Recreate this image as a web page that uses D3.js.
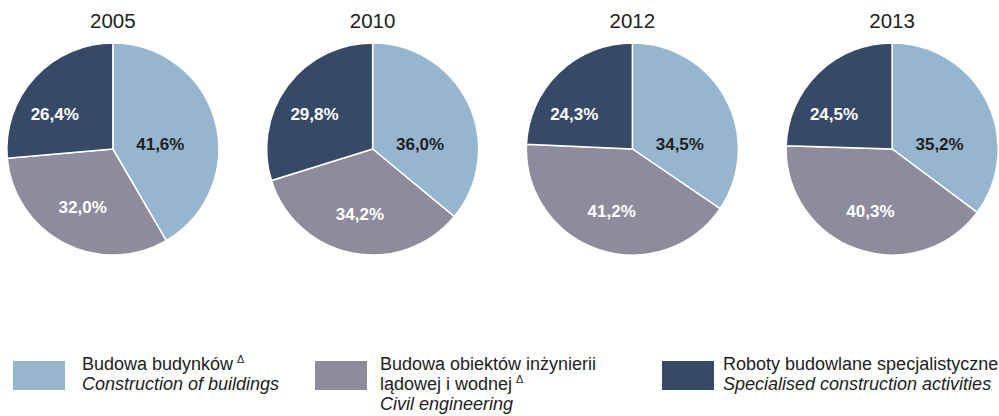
<!DOCTYPE html>
<html>
<head>
<meta charset="utf-8">
<script src="https://cdn.jsdelivr.net/npm/d3@7"></script>
<style>
  html, body { margin: 0; padding: 0; background: #fff; }
  svg { display: block; font-family: "Liberation Sans", Arial, sans-serif; }
</style>
</head>
<body>
<svg id="chart" width="999" height="416"></svg>
<script>
  // data
  const years = ['2005', '2010', '2012', '2013'];
  const categories = ['buildings', 'civil', 'specialised'];
  const shares2005 = [41.6, 32.0, 26.4];
  const shares2010 = [36.0, 34.2, 29.8];
  const shares2012 = [34.5, 41.2, 24.3];
  const shares2013 = [35.2, 40.3, 24.5];
  const legendPl = ['Budowa budynków', 'Budowa obiektów inżynierii|lądowej i wodnej', 'Roboty budowlane specjalistyczne'];
  const legendEn = ['Construction of buildings', 'Civil engineering', 'Specialised construction activities'];
  const legendDelta = [true, true, false];

  const colors = ['#96b6d0', '#8e8b9d', '#364a68'];
  const labelColors = ['#1f1f1f', '#ffffff', '#ffffff'];
  // label placement (best-fit style): fixed angle (deg) or slice middle when null
  const labelAngle = [84, null, 301];
  const labelFrac = [0.45, 0.62, 0.64];

  const allShares = [shares2005, shares2010, shares2012, shares2013];
  const W = 999, R = 106, cy = 149;

  const svg = d3.select('#chart');
  const x = d3.scaleBand().domain(years).range([-17, W + 23]);

  const pie = d3.pie().sort(null).value(d => d);
  const arc = d3.arc().innerRadius(0).outerRadius(R);
  const fmt = v => v.toFixed(1).replace('.', ',') + '%';

  function labelPos(d, j) {
    const a = labelAngle[j] != null ? labelAngle[j] * Math.PI / 180 : (d.startAngle + d.endAngle) / 2;
    const r = R * labelFrac[j];
    return [Math.sin(a) * r, -Math.cos(a) * r];
  }

  years.forEach((yr, i) => {
    const cx = x(yr) + x.bandwidth() / 2;
    const g = svg.append('g').attr('transform', `translate(${cx},${cy})`);
    const arcs = pie(allShares[i]);

    g.selectAll('path')
      .data(arcs)
      .join('path')
      .attr('d', arc)
      .attr('fill', (d, j) => colors[j])
      .attr('stroke', '#fff')
      .attr('stroke-width', 1.5);

    g.selectAll('text.lbl')
      .data(arcs)
      .join('text')
      .attr('class', 'lbl')
      .attr('transform', (d, j) => `translate(${labelPos(d, j)})`)
      .attr('text-anchor', 'middle')
      .attr('dy', '0.36em')
      .attr('font-size', 17)
      .attr('font-weight', 'bold')
      .attr('fill', (d, j) => labelColors[j])
      .text(d => fmt(d.data));

    svg.append('text')
      .attr('x', cx)
      .attr('y', 28)
      .attr('text-anchor', 'middle')
      .attr('font-size', 20.5)
      .attr('fill', '#222')
      .text(yr);
  });

  // legend
  const lx = d3.scaleOrdinal().domain(categories).range([13, 315, 662]);
  const tx = d3.scaleOrdinal().domain(categories).range([82, 380, 723]);
  categories.forEach((c, i) => {
    const g = svg.append('g').attr('transform', `translate(0,361)`);
    g.append('rect').attr('x', lx(c)).attr('width', 52).attr('height', 29).attr('fill', colors[i]);
    const lines = legendPl[i].split('|');
    const t = g.append('text').attr('font-size', 18).attr('fill', '#222');
    lines.forEach((ln, k) => {
      t.append('tspan').attr('x', tx(c)).attr('y', 9 + k * 20).text(ln);
      if (k === lines.length - 1 && legendDelta[i]) {
        t.append('tspan').attr('dx', 4).attr('dy', -7).attr('font-size', 11).text('Δ');
      }
    });
    g.append('text')
      .attr('x', tx(c))
      .attr('y', 9 + lines.length * 20)
      .attr('font-size', 18)
      .attr('font-style', 'italic')
      .attr('fill', '#222')
      .text(legendEn[i]);
  });
</script>
</body>
</html>
